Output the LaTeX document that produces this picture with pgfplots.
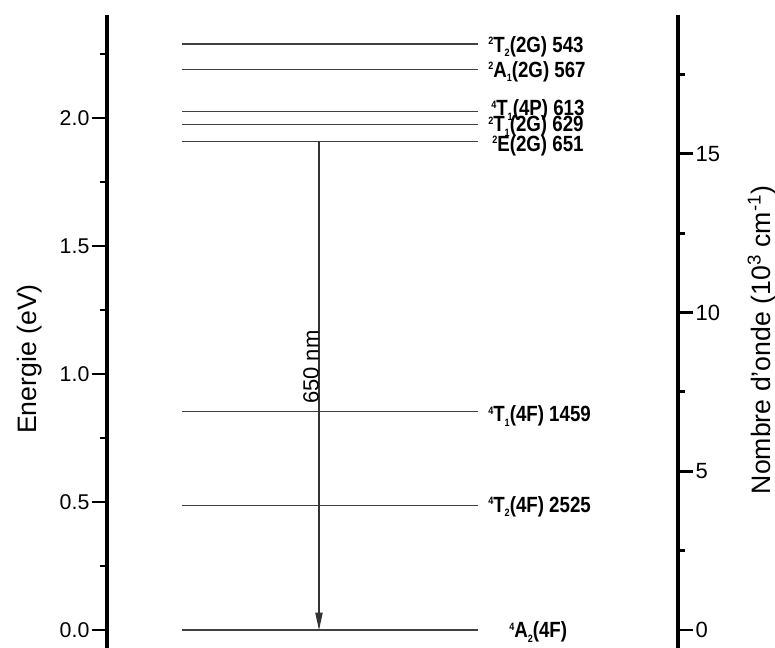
\documentclass[border=0pt]{standalone}
\usepackage{fontspec}
\setmainfont{Liberation Sans}
\usepackage{graphicx}
\usepackage{pgfplots}
\pgfplotsset{compat=1.18}
\usetikzlibrary{arrows.meta}

\newcommand{\up}[1]{\raisebox{5.5pt}{\fontsize{8}{8}\selectfont #1}}
\newcommand{\dn}[1]{\raisebox{-3.5pt}{\fontsize{8}{8}\selectfont #1}}
\newcommand{\lvl}[1]{\scalebox{0.85}[1]{\fontsize{16.5}{18}\selectfont\bfseries #1}}

\begin{document}
\begin{tikzpicture}
\path[use as bounding box] (-80.25pt,0pt) rectangle (501pt,486pt);
\begin{axis}[
  scale only axis, width=428.25pt, height=474.75pt,
  at={(0pt,0pt)}, anchor=south west,
  xmin=0, xmax=571, ymin=-0.0703, ymax=2.4024,
  clip=false,
  axis x line=none, axis y line*=left,
  axis line style={line width=2.8pt, -},
  ytick={0,0.5,1.0,1.5,2.0},
  minor ytick={0.25,0.75,1.25,1.75,2.25},
  tick align=outside,
  major tick length=11.5pt, minor tick length=5pt,
  every tick/.style={black, line width=2.2pt},
  yticklabel style={font=\fontsize{16}{19}\selectfont, inner sep=1.5pt,
    /pgf/number format/fixed, /pgf/number format/fixed zerofill,
    /pgf/number format/precision=1},
  /pgf/number format/assume math mode=true,
  ylabel={Energie (eV)},
  ylabel style={font=\fontsize{20}{24}\selectfont, at={(axis description cs:0,0.4566)}, anchor=center, yshift=57.75pt},
]
% energy levels (eV)
\addplot[black!75, line width=0.8pt] coordinates {(75,2.289) (371,2.289)};
\addplot[black!75, line width=0.8pt] coordinates {(75,2.191) (371,2.191)};
\addplot[black!75, line width=0.8pt] coordinates {(75,2.027) (371,2.027)};
\addplot[black!75, line width=0.8pt] coordinates {(75,1.973) (371,1.973)};
\addplot[black!75, line width=0.8pt] coordinates {(75,1.910) (371,1.910)};
\addplot[black!75, line width=0.8pt] coordinates {(75,0.852) (371,0.852)};
\addplot[black!75, line width=0.8pt] coordinates {(75,0.488) (371,0.488)};
\addplot[black!75, line width=0.8pt] coordinates {(75,0) (371,0)};
% transition
\addplot[black!80, line width=0.8pt, -{Triangle[length=13pt,width=5.5pt]}] coordinates {(212,1.910) (212,0)};
\node[rotate=90, anchor=south, inner sep=0pt, font=\fontsize{16.5}{19}\selectfont] at (axis cs:212,1.05) [xshift=-4.5pt] {650 nm};
% level labels
\node[anchor=base west, inner sep=0pt, yshift=-6pt] at (axis cs:381,2.289) {\lvl{\up{2}T\dn{2}(2G) 543}};
\node[anchor=base west, inner sep=0pt, yshift=-6pt] at (axis cs:381,2.191) {\lvl{\up{2}A\dn{1}(2G) 567}};
\node[anchor=base west, inner sep=0pt, yshift=-6pt] at (axis cs:384,2.040) {\lvl{\up{4}T\dn{1}(4P) 613}};
\node[anchor=base west, inner sep=0pt, yshift=-6pt] at (axis cs:381,1.977) {\lvl{\up{2}T\dn{1}(2G) 629}};
\node[anchor=base west, inner sep=0pt, yshift=-6pt] at (axis cs:385,1.902) {\lvl{\up{2}E(2G) 651}};
\node[anchor=base west, inner sep=0pt, yshift=-6pt] at (axis cs:381,0.846) {\lvl{\up{4}T\dn{1}(4F) 1459}};
\node[anchor=base west, inner sep=0pt, yshift=-6pt] at (axis cs:381,0.492) {\lvl{\up{4}T\dn{2}(4F) 2525}};
\node[anchor=base west, inner sep=0pt, yshift=-6pt] at (axis cs:402,0) {\lvl{\up{4}A\dn{2}(4F)}};
\end{axis}
\begin{axis}[
  scale only axis, width=428.25pt, height=474.75pt,
  at={(0pt,0pt)}, anchor=south west,
  xmin=0, xmax=571, ymin=-0.5670, ymax=19.3766,
  axis x line=none, axis y line*=right,
  axis line style={line width=2.8pt, -},
  ytick={0,5,10,15},
  minor ytick={2.5,7.5,12.5,17.5},
  tick align=outside,
  major tick length=11.5pt, minor tick length=5pt,
  every tick/.style={black, line width=2.2pt},
  yticklabel style={font=\fontsize{16.5}{19}\selectfont, inner sep=1.5pt},
  /pgf/number format/assume math mode=true,
  ylabel={Nombre d'onde (10\textsuperscript{3} cm\textsuperscript{-1})},
  ylabel style={font=\fontsize{20}{24}\selectfont, at={(axis description cs:1,0.4866)}, anchor=center, yshift=-63pt},
]
\addplot[draw=none] coordinates {(0,0)};
\end{axis}
\end{tikzpicture}
\end{document}
